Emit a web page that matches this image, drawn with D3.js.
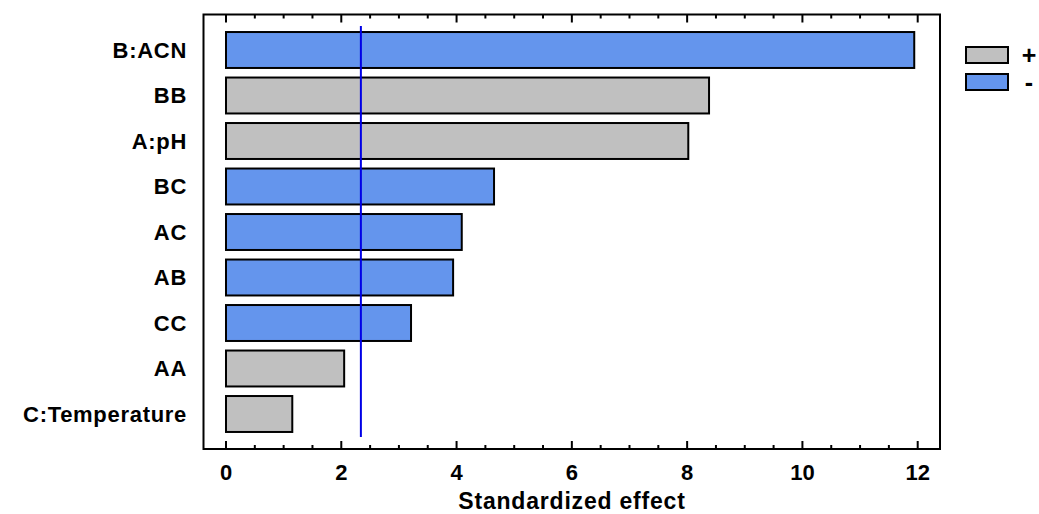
<!DOCTYPE html>
<html>
<head>
<meta charset="utf-8">
<script src="https://cdn.jsdelivr.net/npm/d3@7"></script>
<style>
  body { margin: 0; background: #fff; }
  text { font-family: "Liberation Sans", Arial, sans-serif; font-weight: bold; fill: #000; }
</style>
</head>
<body>
<svg id="chart" width="1039" height="514"></svg>
<script>
// effects, largest first
var terms = ["B:ACN", "BB", "A:pH", "BC", "AC", "AB", "CC", "AA", "C:Temperature"];
var effects = [11.94, 8.38, 8.02, 4.65, 4.09, 3.94, 3.21, 2.05, 1.15];
var signs = ["-", "+", "+", "-", "-", "-", "-", "+", "+"];
var xTicks = [0, 2, 4, 6, 8, 10, 12];
var legendKeys = ["+", "-"];
var critical = 2.34;

var colors = { "+": "#c0c0c0", "-": "#6495ed" };

var svg = d3.select("#chart");

// plot frame
var frame = { left: 203.5, right: 940, top: 14.5, bottom: 449 };

var x = d3.scaleLinear().domain([0, 12]).range([226, 917.7]);
var y = d3.scaleBand().domain(terms)
    .range([27.25, 436.75])
    .paddingInner(0.21)
    .paddingOuter(0.105);

svg.append("rect")
    .attr("x", frame.left).attr("y", frame.top)
    .attr("width", frame.right - frame.left)
    .attr("height", frame.bottom - frame.top)
    .attr("fill", "none").attr("stroke", "#000").attr("stroke-width", 2);

// ticks, major every 2 and minor every 0.5, pointing inward top and bottom
var minor = d3.range(0, 12.01, 0.5);
minor.forEach(function(v) {
  var major = v % 2 === 0;
  var len = major ? 8 : 4;
  svg.append("line")
      .attr("x1", x(v)).attr("x2", x(v))
      .attr("y1", frame.bottom).attr("y2", frame.bottom - len)
      .attr("stroke", "#000").attr("stroke-width", 2);
  svg.append("line")
      .attr("x1", x(v)).attr("x2", x(v))
      .attr("y1", frame.top).attr("y2", frame.top + len)
      .attr("stroke", "#000").attr("stroke-width", 2);
});

svg.selectAll(".tick-label").data(xTicks).enter().append("text")
    .attr("class", "tick-label")
    .attr("x", function(d) { return x(d); })
    .attr("y", 480)
    .attr("text-anchor", "middle")
    .style("font-size", "22px")
    .text(function(d) { return d; });

svg.append("text")
    .attr("x", 572).attr("y", 509)
    .attr("text-anchor", "middle")
    .style("font-size", "23px")
    .style("letter-spacing", "0.8px")
    .text("Standardized effect");

// bars
svg.selectAll(".bar").data(terms).enter().append("rect")
    .attr("class", "bar")
    .attr("x", x(0))
    .attr("y", function(d) { return y(d); })
    .attr("width", function(d, i) { return x(effects[i]) - x(0); })
    .attr("height", y.bandwidth())
    .attr("fill", function(d, i) { return colors[signs[i]]; })
    .attr("stroke", "#000").attr("stroke-width", 2);

svg.selectAll(".term").data(terms).enter().append("text")
    .attr("class", "term")
    .attr("x", 187)
    .attr("y", function(d) { return y(d) + y.bandwidth() / 2; })
    .attr("dy", "0.36em")
    .attr("text-anchor", "end")
    .style("font-size", "22px")
    .style("letter-spacing", "0.7px")
    .text(function(d) { return d; });

// critical value line
svg.append("line")
    .attr("x1", x(critical)).attr("x2", x(critical))
    .attr("y1", 26).attr("y2", 437)
    .attr("stroke", "#0000e6").attr("stroke-width", 2);

// legend
var leg = svg.selectAll(".leg").data(legendKeys).enter().append("g")
    .attr("class", "leg")
    .attr("transform", function(d, i) { return "translate(966," + (47 + i * 27) + ")"; });
leg.append("rect")
    .attr("width", 42).attr("height", 16)
    .attr("fill", function(d) { return colors[d]; })
    .attr("stroke", "#000").attr("stroke-width", 2);
leg.append("text")
    .attr("x", 63).attr("y", 8)
    .attr("dy", "0.36em")
    .attr("text-anchor", "middle")
    .style("font-size", "25px")
    .text(function(d) { return d; });
</script>
</body>
</html>
